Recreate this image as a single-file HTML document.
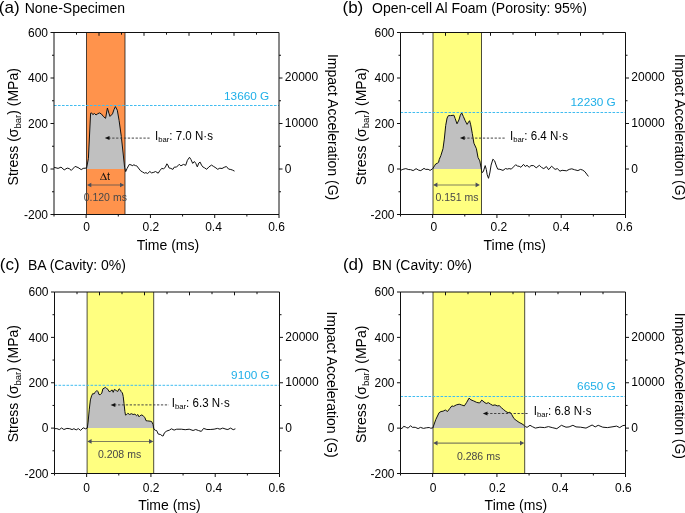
<!DOCTYPE html>
<html><head><meta charset="utf-8"><style>
html,body{margin:0;padding:0;background:#fff;}
svg{display:block;font-family:"Liberation Sans", sans-serif;will-change:transform;}
</style></head><body>
<svg width="685" height="513" viewBox="0 0 685 513">
<rect width="685" height="513" fill="#fff"/>
<rect x="86.5" y="32.5" width="38.5" height="182" fill="#FF934C"/>
<polygon fill="#C0C0C0" points="86.5,169 86.5,168.01 86.6,168 88.4,158.5 90.6,113.2 91.6,112.9 92.8,114.6 94.5,113.5 96,115 97.5,113.9 99.4,112.9 101.3,113.9 103.7,116.8 105.6,118.3 107.4,108 108.9,113.2 110,116.4 112.5,113.9 114,109.5 115.4,106.6 117.3,110.2 119.1,120.5 121.3,136.5 123.2,154 124.6,167.3 125,168.86 125,169"/>
<path d="M86.5 32.5V214.5M125 32.5V214.5" stroke="#000" stroke-opacity="0.7" stroke-width="1" fill="none"/>
<polyline fill="none" stroke="#111" stroke-width="1" stroke-linejoin="round" points="54,167.3 58.1,168.4 61,167.1 64.2,169.9 67.2,168.1 69.2,168.6 71.3,170.4 75.1,166.4 78,167.5 81.2,169.6 83.2,168.4 86.6,168 88.4,158.5 90.6,113.2 91.6,112.9 92.8,114.6 94.5,113.5 96,115 97.5,113.9 99.4,112.9 101.3,113.9 103.7,116.8 105.6,118.3 107.4,108 108.9,113.2 110,116.4 112.5,113.9 114,109.5 115.4,106.6 117.3,110.2 119.1,120.5 121.3,136.5 123.2,154 124.6,167.3 125.7,171.6 127.1,168.4 129.3,164.4 131,164.9 132.8,165.8 133.6,164.7 135.4,165.6 136.7,165.8 138.4,168 140.6,170.8 142.4,171.9 144.6,173.2 145.9,172.6 147.6,173.5 149.8,171.5 151.6,172.9 153.8,172.3 155.5,171.5 158.2,173.2 159.9,170.6 161.7,168.4 163.4,168.8 165.2,167.5 166.9,163.8 167.8,164.9 169.1,168 170.8,168.4 172.9,169.4 174.3,167.1 176.5,167.1 179.2,164.3 180.9,165.8 183.5,164.4 185.7,165.3 187.4,160.3 189.5,157.3 190.9,159.4 192.7,163.4 194.4,161.5 195.8,163.4 197.3,166.9 198.8,163 200.1,162.1 201.5,165.1 202.8,166.9 204.5,167.8 206.7,169.3 208.9,166.9 211.5,165.1 213.7,166.5 215.9,167.9 217.7,169.3 219.8,168.2 222,168.5 224.2,167.3 226.4,166.5 228.6,169.1 230.8,169.5 232.5,170.1 234.5,171.1"/>
<line x1="54" y1="105.5" x2="279" y2="105.5" stroke="#40BCF0" stroke-width="1" stroke-dasharray="2.6 1.4"/>
<text x="269.3" y="100" text-anchor="end" font-size="11.8" fill="#1FAFE8">13660 G</text>
<path d="M54 32.5H279V214.5H54Z M50.5 214.5H54 M52 191.75H54 M50.5 169H54 M52 146.25H54 M50.5 123.5H54 M52 100.75H54 M50.5 78H54 M52 55.25H54 M50.5 32.5H54 M279 191.75H281 M279 169H282.5 M279 146.25H281 M279 123.5H282.5 M279 100.75H281 M279 78H282.5 M279 55.25H281 M54 214.5V216.5 M86.14 214.5V218 M118.29 214.5V216.5 M150.43 214.5V218 M182.57 214.5V216.5 M214.71 214.5V218 M246.86 214.5V216.5 M279 214.5V218 M76.5 32.5V34.7 M99 32.5V35.8 M121.5 32.5V34.7 M144 32.5V35.8 M166.5 32.5V34.7 M189 32.5V35.8 M211.5 32.5V34.7 M234 32.5V35.8 M256.5 32.5V34.7" stroke="#111" stroke-width="1" fill="none"/>
<text x="48" y="218.8" text-anchor="end" font-size="12">-200</text>
<text x="48" y="173.3" text-anchor="end" font-size="12">0</text>
<text x="48" y="127.8" text-anchor="end" font-size="12">200</text>
<text x="48" y="82.3" text-anchor="end" font-size="12">400</text>
<text x="48" y="36.8" text-anchor="end" font-size="12">600</text>
<text x="284.8" y="173.3" font-size="12">0</text>
<text x="284.8" y="127.1" font-size="12">10000</text>
<text x="284.8" y="81.2" font-size="12">20000</text>
<text x="86.7" y="230.9" text-anchor="middle" font-size="12">0</text>
<text x="150.8" y="230.9" text-anchor="middle" font-size="12">0.2</text>
<text x="213.5" y="230.9" text-anchor="middle" font-size="12">0.4</text>
<text x="276.5" y="230.9" text-anchor="middle" font-size="12">0.6</text>
<text x="167.9" y="249.9" text-anchor="middle" font-size="14">Time (ms)</text>
<text transform="translate(17.7,126.75) rotate(-90)" text-anchor="middle" font-size="14">Stress (σ<tspan font-size="9.5" dy="3">bar</tspan><tspan dy="-3">) (MPa)</tspan></text>
<text transform="translate(327.5,127.05) rotate(90)" text-anchor="middle" font-size="14">Impact Acceleration (G)</text>
<line x1="108.3" y1="138.1" x2="150.8" y2="138.1" stroke="#444" stroke-width="1" stroke-dasharray="2.3 1.6"/>
<path d="M104.8 138.1L109.5 136.1V140.1Z" fill="#111"/>
<text transform="translate(155,139.6) scale(0.962,1)" font-size="12">I<tspan font-size="8" dy="2.5">bar</tspan><tspan dy="-2.5">: 7.0 N·s</tspan></text>
<line x1="90" y1="185" x2="121.3" y2="185" stroke="#4d4d4d" stroke-opacity="0.72" stroke-width="1.05"/>
<path d="M87 185l4.3 -2.3v4.6z M124.3 185l-4.3 -2.3v4.6z" fill="#4b4e5a"/>
<text x="105.3" y="200.7" text-anchor="middle" font-size="10.5" fill="#484848">0.120 ms</text>
<path fill-rule="evenodd" fill="#1a1510" d="M103.5 172.4L107.0 180H100.0Z M103.12 174.43L100.76 179.55H105.47Z"/>
<text x="106.9" y="179.9" font-size="11" fill="#1a1510">t</text>
<rect x="433" y="32.5" width="48.5" height="182" fill="#FFFF80"/>
<polygon fill="#C0C0C0" points="433,169 433,168.22 434.5,165.8 435.7,164 437.4,163.2 438.6,162.3 439.2,159.6 440.9,155.5 443,148.7 444.3,139.1 445.7,125.5 447.1,118 448.4,115.6 450.5,115.6 453.9,115.2 455.2,118.6 457,123.8 458.9,120 460.3,115.2 461.7,112.9 463.4,116.6 465.2,120.7 467.1,124.4 468.5,122.1 469.6,120.7 470.7,124.8 472.3,133.6 473.9,143.2 476.4,148.7 478,157.5 479.8,160.9 481.1,167.8 481.5,169 481.5,169"/>
<path d="M433 32.5V214.5M481.5 32.5V214.5" stroke="#000" stroke-opacity="0.7" stroke-width="1" fill="none"/>
<polyline fill="none" stroke="#111" stroke-width="1" stroke-linejoin="round" points="400.6,170.4 402.9,169.3 405.8,168.6 408.8,169.6 410.5,169.6 413.2,170.6 416.1,168.7 418.7,170.2 420.8,170.6 424,168.4 425.7,169.4 428.1,169.3 430.1,170.4 432.7,168.7 434.5,165.8 435.7,164 437.4,163.2 438.6,162.3 439.2,159.6 440.9,155.5 443,148.7 444.3,139.1 445.7,125.5 447.1,118 448.4,115.6 450.5,115.6 453.9,115.2 455.2,118.6 457,123.8 458.9,120 460.3,115.2 461.7,112.9 463.4,116.6 465.2,120.7 467.1,124.4 468.5,122.1 469.6,120.7 470.7,124.8 472.3,133.6 473.9,143.2 476.4,148.7 478,157.5 479.8,160.9 481.1,167.8 481.9,172.6 483.3,171.7 485.2,165.6 486.3,169.5 487.2,174.8 488.5,178.3 489.8,173 491.1,165.1 492.9,159.2 494.6,160.8 496.4,166 497.7,169.1 499.9,169.3 503,170.4 505.6,168.5 507.3,169.1 509.1,168.6 511.3,169.1 513.5,166.9 515.7,164.7 517.4,166 519.2,166.3 520.9,167.3 523.5,164.4 525.3,166.5 527,165.3 529.2,167.3 531,165.6 533.6,165.6 536.2,167.8 539.4,165.3 541.6,167.5 543.8,168.6 546.4,166.5 548.6,169.7 551.6,166.2 555.1,169.4 557.3,168.6 560,171.2 562.1,170.3 566.5,170.8 569.2,169.4 571.8,168.8 574.4,169.7 577.9,170.6 580.5,169.4 582.7,170.1 584.9,171.7 586.7,174.1 588.4,176.4"/>
<line x1="400.5" y1="112.5" x2="625.5" y2="112.5" stroke="#40BCF0" stroke-width="1" stroke-dasharray="2.6 1.4"/>
<text x="615.8" y="106" text-anchor="end" font-size="11.8" fill="#1FAFE8">12230 G</text>
<path d="M400.5 32.5H625.5V214.5H400.5Z M397 214.5H400.5 M398.5 191.75H400.5 M397 169H400.5 M398.5 146.25H400.5 M397 123.5H400.5 M398.5 100.75H400.5 M397 78H400.5 M398.5 55.25H400.5 M397 32.5H400.5 M625.5 191.75H627.5 M625.5 169H629 M625.5 146.25H627.5 M625.5 123.5H629 M625.5 100.75H627.5 M625.5 78H629 M625.5 55.25H627.5 M400.5 214.5V216.5 M432.64 214.5V218 M464.79 214.5V216.5 M496.93 214.5V218 M529.07 214.5V216.5 M561.21 214.5V218 M593.36 214.5V216.5 M625.5 214.5V218 M423 32.5V34.7 M445.5 32.5V35.8 M468 32.5V34.7 M490.5 32.5V35.8 M513 32.5V34.7 M535.5 32.5V35.8 M558 32.5V34.7 M580.5 32.5V35.8 M603 32.5V34.7" stroke="#111" stroke-width="1" fill="none"/>
<text x="394.5" y="218.8" text-anchor="end" font-size="12">-200</text>
<text x="394.5" y="173.3" text-anchor="end" font-size="12">0</text>
<text x="394.5" y="127.8" text-anchor="end" font-size="12">200</text>
<text x="394.5" y="82.3" text-anchor="end" font-size="12">400</text>
<text x="394.5" y="36.8" text-anchor="end" font-size="12">600</text>
<text x="631.3" y="173.3" font-size="12">0</text>
<text x="631.3" y="127.1" font-size="12">10000</text>
<text x="631.3" y="81.2" font-size="12">20000</text>
<text x="433.9" y="230.9" text-anchor="middle" font-size="12">0</text>
<text x="498.9" y="230.9" text-anchor="middle" font-size="12">0.2</text>
<text x="561" y="230.9" text-anchor="middle" font-size="12">0.4</text>
<text x="624.4" y="230.9" text-anchor="middle" font-size="12">0.6</text>
<text x="514.75" y="249.5" text-anchor="middle" font-size="14">Time (ms)</text>
<text transform="translate(366.4,126.55) rotate(-90)" text-anchor="middle" font-size="14">Stress (σ<tspan font-size="9.5" dy="3">bar</tspan><tspan dy="-3">) (MPa)</tspan></text>
<text transform="translate(674.9,127.2) rotate(90)" text-anchor="middle" font-size="14">Impact Acceleration (G)</text>
<line x1="463.4" y1="138.1" x2="505.8" y2="138.1" stroke="#444" stroke-width="1" stroke-dasharray="2.3 1.6"/>
<path d="M459.9 138.1L464.6 136.1V140.1Z" fill="#111"/>
<text transform="translate(510,139.6) scale(0.962,1)" font-size="12">I<tspan font-size="8" dy="2.5">bar</tspan><tspan dy="-2.5">: 6.4 N·s</tspan></text>
<line x1="436.1" y1="184.9" x2="476.9" y2="184.9" stroke="#4d4d4d" stroke-opacity="0.72" stroke-width="1.05"/>
<path d="M433.1 184.9l4.3 -2.3v4.6z M479.9 184.9l-4.3 -2.3v4.6z" fill="#4b4e5a"/>
<text x="457" y="200.8" text-anchor="middle" font-size="10.5" fill="#484848">0.151 ms</text>
<rect x="87.1" y="292" width="66.6" height="181.5" fill="#FFFF80"/>
<polygon fill="#C0C0C0" points="87.1,428.12 87.1,428.09 87.3,428 88.1,422.1 89.3,409.2 90.4,399.9 91.6,395.8 92.8,393.5 93.9,394 95.1,392.3 96.9,390.5 98,391.7 99,394.6 100.4,394.6 101.8,393.1 102.9,388.8 104.1,388.2 105.3,387.3 106.5,388.4 108,389.4 109.1,391.7 110.7,391.1 112.1,389.9 113.2,392.3 114.4,389.4 116.2,390.5 117.7,391.5 119.1,388.8 120.5,390 121.2,391.7 122.4,392.9 123.2,396.4 124,403.4 124.9,411.6 125.5,415.1 126.7,414.5 127.9,413.3 129.6,414.5 131.4,413.7 133.1,414.5 134.9,414.2 136.6,415.7 137.8,414.5 139,416.8 140.1,415.7 141.9,414.9 143.6,416.3 144.8,417.4 146,420.7 147.7,420.9 150.1,421.2 151.6,421.5 153,424.4 153.7,428.06 153.7,428.12"/>
<path d="M87.1 292V473.5M153.7 292V473.5" stroke="#000" stroke-opacity="0.7" stroke-width="1" fill="none"/>
<polyline fill="none" stroke="#111" stroke-width="1" stroke-linejoin="round" points="54,428.7 56.9,428.6 59.3,429.6 61.6,428 63.9,429.5 66.9,428.4 69.8,428.7 72.1,429.6 73.9,428.7 76.2,429.9 78.3,428.6 80.6,430.4 83.2,427.8 85.6,428.8 87.3,428 88.1,422.1 89.3,409.2 90.4,399.9 91.6,395.8 92.8,393.5 93.9,394 95.1,392.3 96.9,390.5 98,391.7 99,394.6 100.4,394.6 101.8,393.1 102.9,388.8 104.1,388.2 105.3,387.3 106.5,388.4 108,389.4 109.1,391.7 110.7,391.1 112.1,389.9 113.2,392.3 114.4,389.4 116.2,390.5 117.7,391.5 119.1,388.8 120.5,390 121.2,391.7 122.4,392.9 123.2,396.4 124,403.4 124.9,411.6 125.5,415.1 126.7,414.5 127.9,413.3 129.6,414.5 131.4,413.7 133.1,414.5 134.9,414.2 136.6,415.7 137.8,414.5 139,416.8 140.1,415.7 141.9,414.9 143.6,416.3 144.8,417.4 146,420.7 147.7,420.9 150.1,421.2 151.6,421.5 153,424.4 153.9,429.1 155.3,430.3 156.6,430.5 158.3,434.1 160.3,434.4 162.2,435.8 163.1,436 164.5,432.7 166.8,431 169.5,430.1 171.4,428.8 174.1,430.1 176.7,429.2 181.3,429.2 185.2,429.7 189.2,429.2 193.1,430.5 195.7,429.5 198.4,430.5 201.3,431.4 203.6,428.4 206.9,429.5 210.2,429.5 214.1,429.2 217.4,428.4 220,429.2 222.7,428.1 226,429.2 227.9,429.5 230.6,428.1 233.2,429.7 235.4,428.8"/>
<line x1="54.5" y1="385.3" x2="279.5" y2="385.3" stroke="#40BCF0" stroke-width="1" stroke-dasharray="2.6 1.4"/>
<text x="269.8" y="379.3" text-anchor="end" font-size="11.8" fill="#1FAFE8">9100 G</text>
<path d="M54.5 292H279.5V473.5H54.5Z M51 473.5H54.5 M52.5 450.81H54.5 M51 428.12H54.5 M52.5 405.44H54.5 M51 382.75H54.5 M52.5 360.06H54.5 M51 337.38H54.5 M52.5 314.69H54.5 M51 292H54.5 M279.5 450.81H281.5 M279.5 428.12H283 M279.5 405.44H281.5 M279.5 382.75H283 M279.5 360.06H281.5 M279.5 337.38H283 M279.5 314.69H281.5 M54.5 473.5V475.5 M86.64 473.5V477 M118.79 473.5V475.5 M150.93 473.5V477 M183.07 473.5V475.5 M215.21 473.5V477 M247.36 473.5V475.5 M279.5 473.5V477 M77 292V294.2 M99.5 292V295.3 M122 292V294.2 M144.5 292V295.3 M167 292V294.2 M189.5 292V295.3 M212 292V294.2 M234.5 292V295.3 M257 292V294.2" stroke="#111" stroke-width="1" fill="none"/>
<text x="48.5" y="477.8" text-anchor="end" font-size="12">-200</text>
<text x="48.5" y="432.43" text-anchor="end" font-size="12">0</text>
<text x="48.5" y="387.05" text-anchor="end" font-size="12">200</text>
<text x="48.5" y="341.68" text-anchor="end" font-size="12">400</text>
<text x="48.5" y="296.3" text-anchor="end" font-size="12">600</text>
<text x="285.3" y="432.43" font-size="12">0</text>
<text x="285.3" y="386.35" font-size="12">10000</text>
<text x="285.3" y="340.57" font-size="12">20000</text>
<text x="86.5" y="492.3" text-anchor="middle" font-size="12">0</text>
<text x="151.1" y="492.3" text-anchor="middle" font-size="12">0.2</text>
<text x="213.8" y="492.3" text-anchor="middle" font-size="12">0.4</text>
<text x="276.8" y="492.3" text-anchor="middle" font-size="12">0.6</text>
<text x="169.45" y="509.8" text-anchor="middle" font-size="14">Time (ms)</text>
<text transform="translate(18.2,383.7) rotate(-90)" text-anchor="middle" font-size="14">Stress (σ<tspan font-size="9.5" dy="3">bar</tspan><tspan dy="-3">) (MPa)</tspan></text>
<text transform="translate(327.3,384.55) rotate(90)" text-anchor="middle" font-size="14">Impact Acceleration (G)</text>
<line x1="114.1" y1="404.9" x2="168.9" y2="404.9" stroke="#444" stroke-width="1" stroke-dasharray="2.3 1.6"/>
<path d="M110.6 404.9L115.3 402.9V406.9Z" fill="#111"/>
<text transform="translate(171.8,406.7) scale(0.962,1)" font-size="12">I<tspan font-size="8" dy="2.5">bar</tspan><tspan dy="-2.5">: 6.3 N·s</tspan></text>
<line x1="90.3" y1="441.4" x2="150.3" y2="441.4" stroke="#4d4d4d" stroke-opacity="0.72" stroke-width="1.05"/>
<path d="M87.3 441.4l4.3 -2.3v4.6z M153.3 441.4l-4.3 -2.3v4.6z" fill="#4b4e5a"/>
<text x="119.55" y="457.9" text-anchor="middle" font-size="10.5" fill="#484848">0.208 ms</text>
<rect x="433" y="292" width="91.7" height="181.5" fill="#FFFF80"/>
<polygon fill="#C0C0C0" points="433,428.12 433,427.43 435.8,419.5 439.1,412.7 441,411.5 443.1,411.2 445.3,410 447.5,411.5 449.7,408.6 451.9,405.9 453.6,406.4 456.3,404.9 459.2,404.2 461.4,404.9 464.3,405.9 466.5,402.7 469.1,398.1 470.9,399.8 473.8,401 476.7,402.4 479.6,403 481.8,400.1 484,402 486.2,403.5 488.4,402.7 490.6,404.2 492.8,405.4 495,404.9 497.2,405.9 499.3,405.7 501.5,407.8 503.7,409.7 505.9,411.5 508.1,412.7 510,412.2 511.8,414.7 513.9,418.5 516.1,420.3 519.1,422.4 522,423.9 524.2,425.4 524.7,425.9 524.7,428.12"/>
<path d="M433 292V473.5M524.7 292V473.5" stroke="#000" stroke-opacity="0.7" stroke-width="1" fill="none"/>
<polyline fill="none" stroke="#111" stroke-width="1" stroke-linejoin="round" points="400.6,428.1 402,428.6 403.5,426.4 405.3,426.8 406.4,427.5 408.2,428.1 410.5,425.7 412.3,427.3 415.2,427.3 418.1,428.6 420.5,427.4 423.4,428.4 426.3,427.8 429.2,427.5 430.7,428.2 432.8,428 435.8,419.5 439.1,412.7 441,411.5 443.1,411.2 445.3,410 447.5,411.5 449.7,408.6 451.9,405.9 453.6,406.4 456.3,404.9 459.2,404.2 461.4,404.9 464.3,405.9 466.5,402.7 469.1,398.1 470.9,399.8 473.8,401 476.7,402.4 479.6,403 481.8,400.1 484,402 486.2,403.5 488.4,402.7 490.6,404.2 492.8,405.4 495,404.9 497.2,405.9 499.3,405.7 501.5,407.8 503.7,409.7 505.9,411.5 508.1,412.7 510,412.2 511.8,414.7 513.9,418.5 516.1,420.3 519.1,422.4 522,423.9 524.2,425.4 525.6,426.8 527.1,427.3 530,425.3 532.3,426.6 535.3,428.1 539.9,427.2 544.5,427.6 548.4,426.6 552.2,427.6 556.8,428.7 561.4,425.3 566,427.2 569.1,426.9 572.9,425.3 576,426.9 580.6,427.2 586,428.1 592.1,425 595.2,426.9 598.2,425.3 602.8,427.2 607.4,427.6 612,426.9 616.6,426.1 619.7,427.6 622.8,425.6 625,425.3"/>
<line x1="400.5" y1="396.5" x2="625.5" y2="396.5" stroke="#40BCF0" stroke-width="1" stroke-dasharray="2.6 1.4"/>
<text x="615.8" y="389.9" text-anchor="end" font-size="11.8" fill="#1FAFE8">6650 G</text>
<path d="M400.5 292H625.5V473.5H400.5Z M397 473.5H400.5 M398.5 450.81H400.5 M397 428.12H400.5 M398.5 405.44H400.5 M397 382.75H400.5 M398.5 360.06H400.5 M397 337.38H400.5 M398.5 314.69H400.5 M397 292H400.5 M625.5 450.81H627.5 M625.5 428.12H629 M625.5 405.44H627.5 M625.5 382.75H629 M625.5 360.06H627.5 M625.5 337.38H629 M625.5 314.69H627.5 M400.5 473.5V475.5 M432.64 473.5V477 M464.79 473.5V475.5 M496.93 473.5V477 M529.07 473.5V475.5 M561.21 473.5V477 M593.36 473.5V475.5 M625.5 473.5V477 M423 292V294.2 M445.5 292V295.3 M468 292V294.2 M490.5 292V295.3 M513 292V294.2 M535.5 292V295.3 M558 292V294.2 M580.5 292V295.3 M603 292V294.2" stroke="#111" stroke-width="1" fill="none"/>
<text x="394.5" y="477.8" text-anchor="end" font-size="12">-200</text>
<text x="394.5" y="432.43" text-anchor="end" font-size="12">0</text>
<text x="394.5" y="387.05" text-anchor="end" font-size="12">200</text>
<text x="394.5" y="341.68" text-anchor="end" font-size="12">400</text>
<text x="394.5" y="296.3" text-anchor="end" font-size="12">600</text>
<text x="631.3" y="432.43" font-size="12">0</text>
<text x="631.3" y="386.35" font-size="12">10000</text>
<text x="631.3" y="340.57" font-size="12">20000</text>
<text x="433" y="492.3" text-anchor="middle" font-size="12">0</text>
<text x="497.3" y="492.3" text-anchor="middle" font-size="12">0.2</text>
<text x="560" y="492.3" text-anchor="middle" font-size="12">0.4</text>
<text x="623.3" y="492.3" text-anchor="middle" font-size="12">0.6</text>
<text x="515.85" y="509.8" text-anchor="middle" font-size="14">Time (ms)</text>
<text transform="translate(366.4,384.3) rotate(-90)" text-anchor="middle" font-size="14">Stress (σ<tspan font-size="9.5" dy="3">bar</tspan><tspan dy="-3">) (MPa)</tspan></text>
<text transform="translate(674.6,385.9) rotate(90)" text-anchor="middle" font-size="14">Impact Acceleration (G)</text>
<line x1="486.3" y1="413.5" x2="528.8" y2="413.5" stroke="#444" stroke-width="1" stroke-dasharray="2.3 1.6"/>
<path d="M482.8 413.5L487.5 411.5V415.5Z" fill="#111"/>
<text transform="translate(533.7,414.6) scale(0.962,1)" font-size="12">I<tspan font-size="8" dy="2.5">bar</tspan><tspan dy="-2.5">: 6.8 N·s</tspan></text>
<line x1="436.2" y1="443.1" x2="521.3" y2="443.1" stroke="#4d4d4d" stroke-opacity="0.72" stroke-width="1.05"/>
<path d="M433.2 443.1l4.3 -2.3v4.6z M524.3 443.1l-4.3 -2.3v4.6z" fill="#4b4e5a"/>
<text x="478.55" y="459.6" text-anchor="middle" font-size="10.5" fill="#484848">0.286 ms</text>
<text x="-1.2" y="12.8" font-size="17">(a)</text>
<text x="24.7" y="12.8" font-size="14">None-Specimen</text>
<text x="342.5" y="12.8" font-size="17">(b)</text>
<text x="372.1" y="12.8" font-size="14">Open-cell Al Foam (Porosity: 95%)</text>
<text x="-0.2" y="269.7" font-size="17">(c)</text>
<text x="27.9" y="269.7" font-size="14">BA (Cavity: 0%)</text>
<text x="342.9" y="269.7" font-size="17">(d)</text>
<text x="372.3" y="269.7" font-size="14">BN (Cavity: 0%)</text>
</svg>
</body></html>
